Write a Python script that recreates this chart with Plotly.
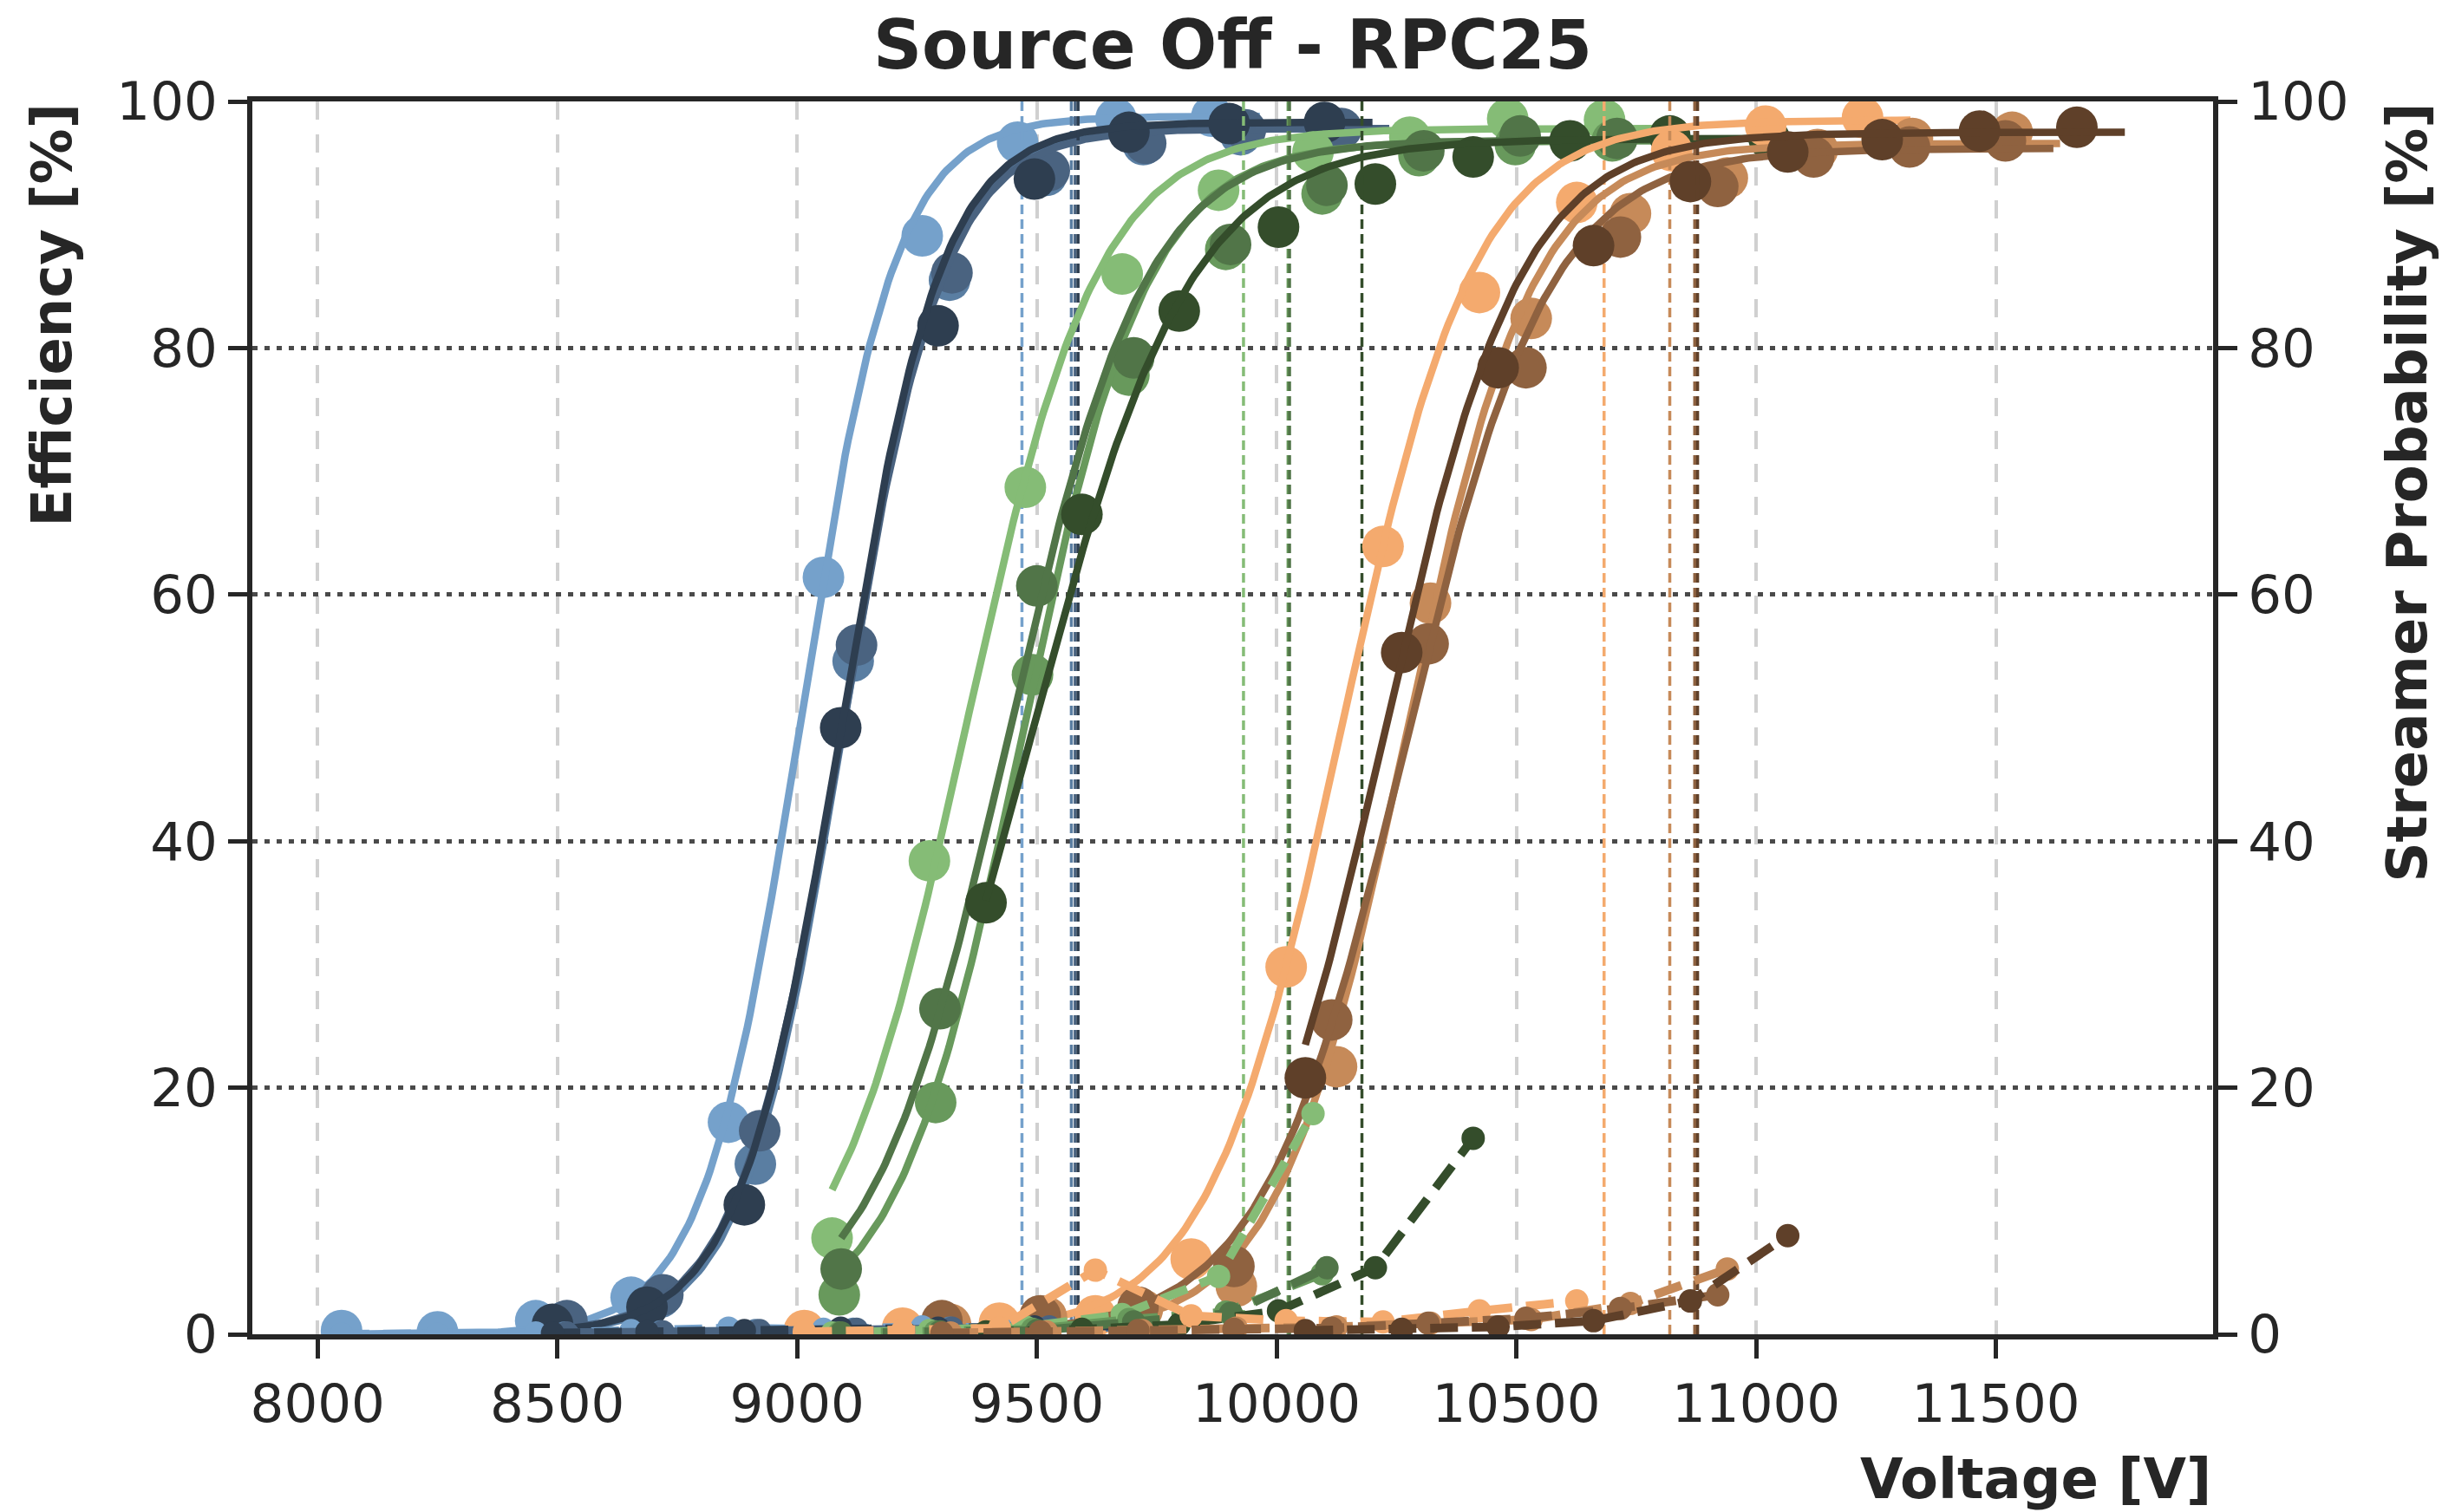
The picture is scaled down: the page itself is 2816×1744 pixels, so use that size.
import numpy as np
import plotly.graph_objects as go

# ---------------- measured data ----------------
colors = ["#75a1cb", "#5a7ea2", "#4a6380", "#2e3e50",
          "#85bc76", "#68995c", "#517548", "#344d2b",
          "#f4aa6e", "#c68a59", "#8f6240", "#5f4029"]

# applied voltage [V] per scan
hv = [
    [8050, 8250, 8455, 8654, 8857, 9055, 9261, 9460, 9665, 9865],
    [8515, 8715, 8913, 9117, 9318, 9520, 9722, 9925, 10128],
    [8520, 8720, 8922, 9124, 9323, 9526, 9727, 9935, 10135],
    [8490, 8687, 8890, 9091, 9294, 9495, 9692, 9901, 10100],
    [9073, 9276, 9476, 9678, 9879, 10076, 10278, 10482, 10684],
    [9088, 9289, 9491, 9692, 9894, 10095, 10297, 10498, 10700],
    [9092, 9298, 9500, 9702, 9904, 10105, 10307, 10508, 10710],
    [9394, 9594, 9797, 10004, 10206, 10410, 10612, 10820, 11027],
    [9015, 9220, 9422, 9622, 9822, 10020, 10222, 10423, 10626, 10824, 11020, 11222],
    [9320, 9520, 9720, 9916, 10125, 10321, 10531, 10738, 10940, 11128, 11326, 11534],
    [9302, 9507, 9711, 9911, 10115, 10316, 10520, 10717, 10920, 11120, 11320, 11520],
    [10060, 10261, 10462, 10661, 10863, 11066, 11263, 11466, 11669],
]

# efficiency [%]
eff = [
    [0.3, 0.2, 1.1, 3.0, 17.2, 61.4, 89.1, 96.7, 98.6, 98.8],
    [1.0, 3.0, 13.8, 54.6, 85.5, 94.0, 96.5, 97.3, 97.6],
    [1.1, 3.2, 16.5, 55.9, 86.1, 94.4, 96.6, 97.7, 97.8],
    [0.8, 2.2, 10.5, 49.2, 81.8, 93.7, 97.5, 98.2, 98.3],
    [7.8, 38.4, 68.7, 86.0, 92.8, 95.9, 97.1, 98.6, 98.5],
    [3.2, 18.8, 53.5, 77.8, 88.0, 92.5, 95.6, 96.5, 96.8],
    [5.3, 26.4, 60.7, 79.2, 88.4, 93.2, 96.0, 97.2, 97.0],
    [35.0, 66.5, 83.0, 89.8, 93.3, 95.5, 96.8, 97.2, 97.0],
    [0.3, 0.5, 0.9, 1.5, 6.1, 29.8, 63.9, 84.5, 91.8, 96.0, 98.0, 98.7],
    [0.8, 1.4, 2.0, 3.9, 21.7, 59.3, 82.4, 90.9, 93.8, 96.1, 97.0, 97.5],
    [1.1, 1.5, 2.2, 5.5, 25.5, 56.0, 78.4, 89.0, 93.1, 95.5, 96.3, 96.8],
    [20.8, 55.3, 78.4, 88.3, 93.5, 95.9, 96.9, 97.6, 97.9],
]

# streamer probability [%], measured on the first points of each scan
streamer = [
    [0.0, 0.0, 0.1, 0.3, 0.5, 0.4, 0.6, 0.5],
    [0.1, 0.2, 0.3, 0.4, 0.5, 0.5, 0.6],
    [0.1, 0.2, 0.3, 0.4, 0.5, 0.6, 0.6],
    [0.1, 0.2, 0.3, 0.5, 0.5, 0.6, 0.7],
    [0.1, 0.3, 0.6, 1.6, 4.7, 17.9],
    [0.1, 0.2, 0.4, 1.2, 1.8, 4.9],
    [0.1, 0.2, 0.3, 1.0, 1.7, 5.4],
    [0.2, 0.4, 0.8, 1.9, 5.4, 15.9],
    [0.2, 0.3, 0.5, 5.2, 1.5, 1.1, 1.0, 1.9, 2.7],
    [0.1, 0.2, 0.3, 0.5, 0.6, 0.9, 1.2, 2.5, 5.3],
    [0.1, 0.2, 0.3, 0.4, 0.5, 0.9, 1.3, 2.1, 3.2],
    [0.3, 0.4, 0.6, 1.1, 2.7, 8.0],
]

# sigmoid fit parameters: plateau [%], slope [1/V], HV50 [V]
plateau = [98.8, 97.8, 97.8, 98.3, 97.8, 96.8, 96.9, 97.0, 98.5, 96.6, 96.2, 97.5]
slope = [0.0100, 0.0097, 0.0093, 0.0095, 0.0072, 0.0076, 0.0070, 0.0060,
         0.0072, 0.0075, 0.0067, 0.0070]
hv50 = [9005, 9094, 9093, 9091, 9350, 9468, 9440, 9488, 10136, 10268, 10270, 10224]

# working points [V]
working_point = [9469, 9572, 9580, 9586, 9931, 10024, 10027, 10178,
                 10683, 10820, 10872, 10878]

x_ticks = [8000, 8500, 9000, 9500, 10000, 10500, 11000, 11500]
x_tick_text = ["8000", "8500", "9000", "9500", "10000", "10500", "11000", "11500"]
y_ticks = [0, 20, 40, 60, 80, 100]

# ---------------- figure ----------------
ink = "#262626"
font = "DejaVu Sans"
fig = go.Figure()

for i, c in enumerate(colors):
    x_fit = np.linspace(hv[i][0], hv[i][-1] + 100, 300)
    y_fit = plateau[i] / (1.0 + np.exp(-slope[i] * (x_fit - hv50[i])))

    fig.add_trace(go.Scatter(
        x=hv[i], y=eff[i], mode="markers",
        marker=dict(size=48, color=c, line=dict(width=0)),
        showlegend=False, hoverinfo="skip"))
    fig.add_trace(go.Scatter(
        x=x_fit, y=y_fit, mode="lines",
        line=dict(color=c, width=8.5),
        showlegend=False, hoverinfo="skip"))
    fig.add_trace(go.Scatter(
        x=[working_point[i], working_point[i]], y=[0, 100], mode="lines",
        line=dict(color=c, width=3.5, dash="11px,6px"),
        showlegend=False, hoverinfo="skip"))

for i, c in enumerate(colors):
    n = len(streamer[i])
    fig.add_trace(go.Scatter(
        x=hv[i][:n], y=streamer[i], mode="lines+markers", yaxis="y2",
        line=dict(color=c, width=10, dash="32px,16px"),
        marker=dict(size=27, color=c, line=dict(width=0)),
        showlegend=False, hoverinfo="skip"))

axis_common = dict(
    showline=True, linewidth=6, linecolor=ink,
    ticks="outside", ticklen=22, tickwidth=5, tickcolor=ink,
    tickfont=dict(family=font, size=61, color=ink),
    zeroline=False,
)

fig.update_layout(
    width=2816, height=1744,
    margin=dict(l=291, r=264, t=117, b=205, autoexpand=False),
    paper_bgcolor="white", plot_bgcolor="white",
    font=dict(family=font, color=ink),
    title=dict(text="Source Off - RPC25", x=0.5, xref="paper", xanchor="center",
               y=1 - 52 / 1744, yref="container", yanchor="middle",
               font=dict(family=font, size=78, color=ink, weight="bold")),
    xaxis=dict(range=[7864, 11953], tickvals=x_ticks, ticktext=x_tick_text, mirror=True,
               showgrid=True, gridcolor="#d0d0d0", gridwidth=4, griddash="21px,17px",
               automargin=False, **axis_common),
    yaxis=dict(range=[0, 100], tickvals=y_ticks,
               showgrid=True, gridcolor="#4a4a4a", gridwidth=5, griddash="6px,8px",
               automargin=False, **axis_common),
    yaxis2=dict(range=[0, 100], tickvals=y_ticks, overlaying="y", side="right",
                showgrid=False, automargin=False, **axis_common),
    annotations=[
        dict(text="<b>Voltage [V]</b>", xref="paper", yref="paper",
             x=1.0, xanchor="right", y=(1539 - 1706) / 1422, yanchor="middle",
             showarrow=False, font=dict(family=font, size=64, color=ink)),
        dict(text="<b>Efficiency [%]</b>", xref="paper", yref="paper",
             x=(59 - 291) / 2261, xanchor="center", y=1.0, yanchor="top",
             textangle=-90, showarrow=False,
             font=dict(family=font, size=64, color=ink)),
        dict(text="<b>Streamer Probability [%]</b>", xref="paper", yref="paper",
             x=(2775 - 291) / 2261, xanchor="center", y=1.0, yanchor="top",
             textangle=-90, showarrow=False,
             font=dict(family=font, size=64, color=ink)),
    ],
)

fig.write_html("out.html")
